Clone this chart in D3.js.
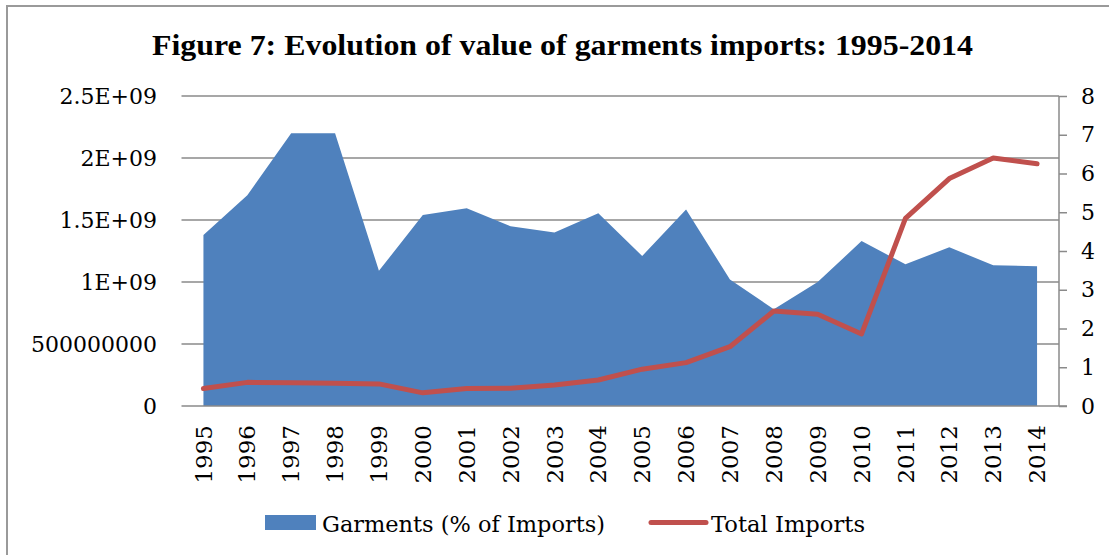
<!DOCTYPE html>
<meta charset="utf-8">
<style>
body {
    margin: 0px;
    background: white;
}
text {
  font-family: "DejaVu Serif", serif;
  fill: black;
}
.title {
  font-family: "Liberation Serif", "Times New Roman", serif;
  font-weight: 700;
  font-size: 29px;
}
.tick-label {
  font-size: 22px;
}
.legend-label {
  font-size: 22px;
}
</style>
<body>
<script src="https://d3js.org/d3.v7.min.js"></script>
<script>
var width = 1109,
    height = 555

// Years on the category axis
var years = ["1995","1996","1997","1998","1999","2000","2001","2002","2003","2004",
             "2005","2006","2007","2008","2009","2010","2011","2012","2013","2014"]

// Garments value (left axis)
var garments = [1.38e9, 1.70e9, 2.20e9, 2.20e9, 1.09e9, 1.54e9, 1.595e9, 1.45e9, 1.40e9, 1.555e9,
                1.21e9, 1.585e9, 1.02e9, 0.78e9, 1.0e9, 1.33e9, 1.143e9, 1.28e9, 1.135e9, 1.127e9]

// Total imports (right axis)
var totalImports = [0.45, 0.61, 0.60, 0.59, 0.57, 0.34, 0.45, 0.46, 0.54, 0.67,
                    0.95, 1.12, 1.53, 2.45, 2.37, 1.86, 4.84, 5.87, 6.40, 6.25]

var leftTicks = [0, 5e8, 1e9, 1.5e9, 2e9, 2.5e9]
var leftTickLabels = ["0", "500000000", "1E+09", "1.5E+09", "2E+09", "2.5E+09"]
var rightTicks = [0, 1, 2, 3, 4, 5, 6, 7, 8]

var titleText = "Figure 7: Evolution of value of garments imports: 1995-2014"
var legendNames = ["Garments (% of Imports)", "Total Imports"]

var blue = "#4F81BD",
    red = "#C0504D",
    gridColor = "#8a8a8a"

var plot = { left: 181.5, right: 1059, top: 96, bottom: 406 }

var svg = d3.select("body").append("svg")
    .attr("width", width)
    .attr("height", height)

// chart frame (only top/left edges are in view)
svg.append("rect")
    .attr("x", 7)
    .attr("y", 6)
    .attr("width", 1200)
    .attr("height", 700)
    .attr("fill", "none")
    .attr("stroke", "#9a9a9a")
    .attr("stroke-width", 2)

var x = d3.scaleBand()
    .domain(years)
    .range([plot.left, plot.right])

var yLeft = d3.scaleLinear()
    .domain([0, 2.5e9])
    .range([plot.bottom, plot.top])

var yRight = d3.scaleLinear()
    .domain([0, 8])
    .range([plot.bottom, plot.top])

function cx(d, i) { return x(years[i]) + x.bandwidth() / 2 }

// gridlines (behind the area)
svg.append("g")
    .selectAll("line")
    .data(leftTicks.slice(1))
    .enter()
    .append("line")
    .attr("x1", plot.left)
    .attr("x2", plot.right)
    .attr("y1", function(d) { return yLeft(d) })
    .attr("y2", function(d) { return yLeft(d) })
    .attr("stroke", gridColor)
    .attr("stroke-width", 1.5)

// 1. Garments area
var area = d3.area()
    .x(cx)
    .y0(yLeft(0))
    .y1(function(d) { return yLeft(d) })

svg.append("path")
    .datum(garments)
    .attr("d", area)
    .attr("fill", blue)

// 2. axes lines
svg.append("line")
    .attr("x1", plot.left)
    .attr("x2", plot.right + 8)
    .attr("y1", plot.bottom)
    .attr("y2", plot.bottom)
    .attr("stroke", gridColor)
    .attr("stroke-width", 1.5)

var rightAxis = d3.axisRight(yRight)
    .tickValues(rightTicks)
    .tickSize(8)
    .tickPadding(14)

var gRight = svg.append("g")
    .attr("transform", "translate(" + plot.right + ",0)")
    .call(rightAxis)

gRight.select(".domain").remove()
gRight.append("line")
    .attr("x1", 0)
    .attr("x2", 0)
    .attr("y1", plot.top)
    .attr("y2", plot.bottom)
    .attr("stroke", gridColor)
    .attr("stroke-width", 1.5)
gRight.selectAll(".tick line")
    .attr("stroke", gridColor)
    .attr("stroke-width", 1.5)
gRight.selectAll(".tick text")
    .attr("class", "tick-label")
    .attr("fill", "black")
    .attr("font-family", null)
    .attr("font-size", null)

// left labels
svg.append("g")
    .selectAll("text")
    .data(leftTicks)
    .enter()
    .append("text")
    .attr("class", "tick-label")
    .attr("x", 157)
    .attr("y", function(d) { return yLeft(d) })
    .attr("dy", "0.35em")
    .attr("text-anchor", "end")
    .text(function(d, i) { return leftTickLabels[i] })

// year labels, rotated
svg.append("g")
    .selectAll("text")
    .data(years)
    .enter()
    .append("text")
    .attr("class", "tick-label")
    .attr("transform", function(d) {
        return "translate(" + (x(d) + x.bandwidth() / 2) + ",425) rotate(-90)"
    })
    .attr("dy", "0.35em")
    .attr("text-anchor", "end")
    .style("font-size", "23px")
    .text(function(d) { return d })

// 3. Total imports line
var line = d3.line()
    .x(cx)
    .y(function(d) { return yRight(d) })

svg.append("path")
    .datum(totalImports)
    .attr("d", line)
    .attr("fill", "none")
    .attr("stroke", red)
    .attr("stroke-width", 5)
    .attr("stroke-linejoin", "round")
    .attr("stroke-linecap", "round")

// title
svg.append("text")
    .attr("class", "title")
    .attr("x", 152)
    .attr("y", 55)
    .attr("textLength", 821)
    .attr("lengthAdjust", "spacingAndGlyphs")
    .text(titleText)

// legend
svg.append("rect")
    .attr("x", 265)
    .attr("y", 515)
    .attr("width", 51)
    .attr("height", 15)
    .attr("fill", blue)

svg.append("text")
    .attr("class", "legend-label")
    .attr("x", 322)
    .attr("y", 532)
    .attr("textLength", 283)
    .attr("lengthAdjust", "spacingAndGlyphs")
    .text(legendNames[0])

svg.append("line")
    .attr("x1", 651)
    .attr("x2", 706)
    .attr("y1", 522.5)
    .attr("y2", 522.5)
    .attr("stroke", red)
    .attr("stroke-width", 5)
    .attr("stroke-linecap", "round")

svg.append("text")
    .attr("class", "legend-label")
    .attr("x", 711)
    .attr("y", 532)
    .attr("textLength", 154)
    .attr("lengthAdjust", "spacingAndGlyphs")
    .text(legendNames[1])
</script>
